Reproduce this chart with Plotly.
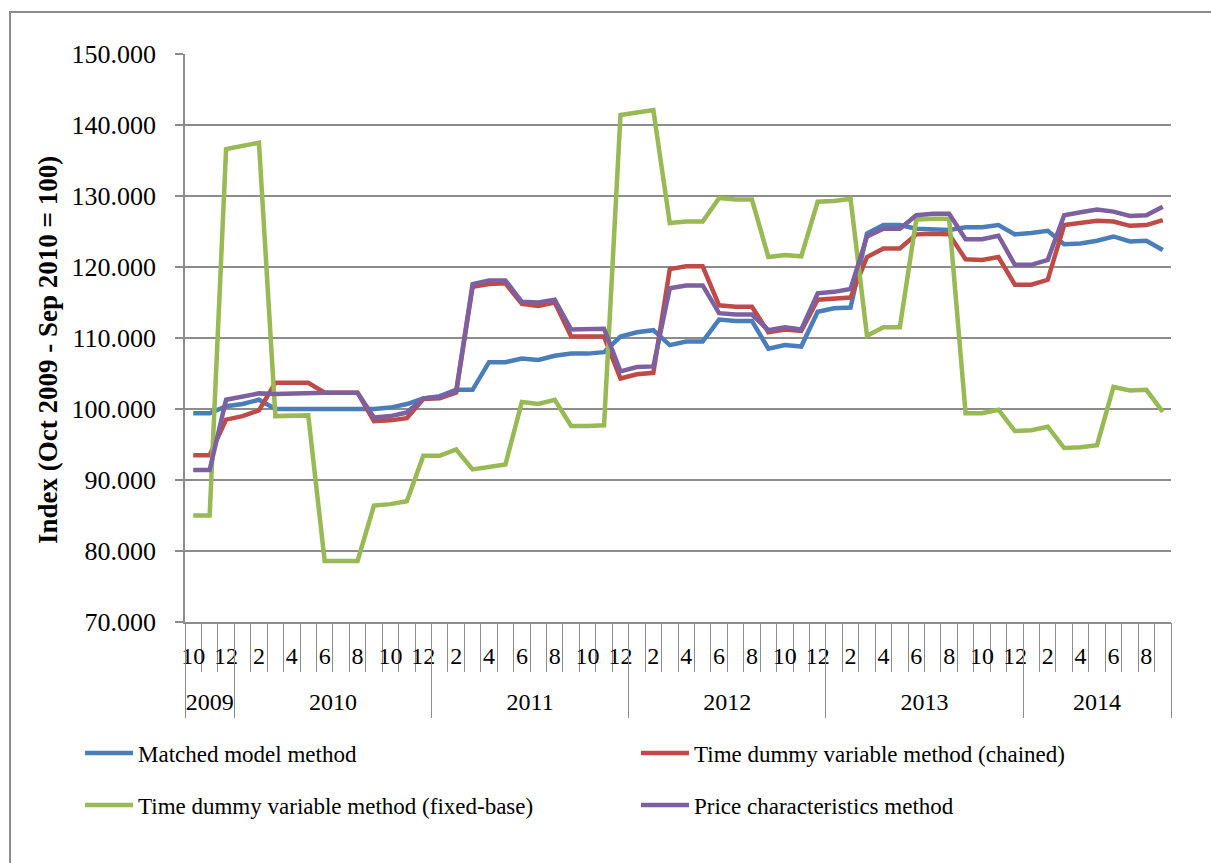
import plotly.graph_objects as go

# Monthly observations, Oct 2009 - Sep 2014
months = [10, 11, 12] + list(range(1, 13)) * 4 + list(range(1, 10))
years = [2009] * 3 + [2010] * 12 + [2011] * 12 + [2012] * 12 + [2013] * 12 + [2014] * 9

matched_model = [
    99.4, 99.4, 100.4, 100.7, 101.3, 100.0, 100.0, 100.0, 100.0, 100.0,
    100.0, 100.0, 100.2, 100.7, 101.5, 101.8, 102.7, 102.7, 106.6, 106.6,
    107.1, 106.9, 107.5, 107.8, 107.8, 108.0, 110.2, 110.8, 111.1, 109.0,
    109.5, 109.5, 112.6, 112.4, 112.4, 108.5, 109.0, 108.8, 113.7, 114.2,
    114.3, 124.7, 125.9, 125.9, 125.4, 125.3, 125.2, 125.6, 125.6, 125.9,
    124.6, 124.8, 125.1, 123.2, 123.3, 123.7, 124.3, 123.6, 123.7, 122.4,
]
time_dummy_chained = [
    93.5, 93.5, 98.5, 99.0, 99.8, 103.7, 103.7, 103.7, 102.3, 102.3,
    102.3, 98.3, 98.4, 98.7, 101.4, 101.5, 102.3, 117.2, 117.6, 117.7,
    114.8, 114.5, 115.0, 110.2, 110.2, 110.2, 104.3, 104.9, 105.1, 119.7,
    120.1, 120.1, 114.6, 114.4, 114.4, 110.8, 111.2, 111.0, 115.4, 115.5,
    115.7, 121.4, 122.6, 122.6, 124.6, 124.7, 124.6, 121.1, 121.0, 121.4,
    117.5, 117.5, 118.2, 125.9, 126.2, 126.5, 126.4, 125.8, 125.9, 126.6,
]
time_dummy_fixed = [
    85.0, 85.0, 136.6, 137.0, 137.5, 99.0, 99.0, 99.1, 78.6, 78.6,
    78.6, 86.4, 86.6, 87.0, 93.4, 93.4, 94.3, 91.5, 91.9, 92.2,
    101.0, 100.7, 101.3, 97.6, 97.6, 97.7, 141.4, 141.8, 142.1, 126.2,
    126.4, 126.4, 129.7, 129.5, 129.5, 121.4, 121.7, 121.5, 129.2, 129.3,
    129.6, 110.3, 111.5, 111.5, 126.7, 126.8, 126.8, 99.4, 99.4, 99.9,
    96.9, 97.0, 97.5, 94.5, 94.6, 94.9, 103.1, 102.6, 102.7, 99.6,
]
price_characteristics = [
    91.4, 91.4, 101.3, 101.7, 102.2, 102.1, 102.2, 102.3, 102.3, 102.3,
    102.3, 98.8, 99.0, 99.5, 101.5, 101.7, 102.5, 117.6, 118.1, 118.1,
    115.1, 115.0, 115.4, 111.2, 111.2, 111.3, 105.3, 105.9, 106.0, 117.0,
    117.4, 117.4, 113.5, 113.3, 113.3, 111.1, 111.5, 111.2, 116.3, 116.5,
    116.9, 124.3, 125.4, 125.4, 127.3, 127.5, 127.5, 123.9, 123.9, 124.4,
    120.3, 120.3, 121.0, 127.3, 127.7, 128.1, 127.8, 127.2, 127.3, 128.5,
]

# name, values, colour, legend slot (column, row)
series = [
    ("Matched model method", matched_model, "#4A7EBB", (0, 0)),
    ("Time dummy variable method (chained)", time_dummy_chained, "#BE4B48", (1, 0)),
    ("Time dummy variable method (fixed-base)", time_dummy_fixed, "#98B954", (0, 1)),
    ("Price characteristics method", price_characteristics, "#7D60A0", (1, 1)),
]

n = len(months)
idx = list(range(n))

# month labels every other category, year labels centred on each year's span
month_ticks = [i for i in idx if months[i] % 2 == 0]
month_text = [str(months[i]) for i in month_ticks]
year_list = sorted(set(years))
year_centres, year_bounds = [], [-0.5]
for y in year_list:
    pos = [i for i in idx if years[i] == y]
    year_centres.append((pos[0] + pos[-1]) / 2)
    year_bounds.append(pos[-1] + 0.5)

FONT = "Liberation Serif"
GRID = "#8C8C8C"
W, H = 1211, 863
ML, MR, MT, MB = 185, 40, 54, 241
PW, PH = W - ML - MR, H - MT - MB

fig = go.Figure()
legend_cfg = {}
col_x = [80, 636]
row_y = [753, 805]
for k, (name, vals, color, (c, r)) in enumerate(series):
    lg = "legend" if k == 0 else f"legend{k + 1}"
    fig.add_trace(go.Scatter(
        x=idx, y=vals, name=name, mode="lines",
        line=dict(color=color, width=4.5),
        legend=lg,
    ))
    legend_cfg[lg] = dict(
        xref="container", yref="container",
        x=col_x[c] / W, y=1 - row_y[r] / H, xanchor="left", yanchor="middle",
        font=dict(size=23), bgcolor="rgba(0,0,0,0)", itemwidth=48,
    )

# carrier for the year axis (no visible marks)
fig.add_trace(go.Scatter(
    x=[-0.5, n - 0.5], y=[70, 70], xaxis="x2", yaxis="y",
    mode="lines", line=dict(width=0, color="rgba(0,0,0,0)"),
    showlegend=False, hoverinfo="skip",
))

fig.update_layout(
    width=W, height=H,
    margin=dict(l=ML, r=MR, t=MT, b=MB, autoexpand=False),
    paper_bgcolor="white", plot_bgcolor="white",
    font=dict(family=FONT, size=24, color="black"),
    xaxis=dict(
        range=[-0.5, n - 0.5], showgrid=False, zeroline=False, automargin=False,
        showline=True, linecolor=GRID, linewidth=1.5,
        tickmode="array", tickvals=month_ticks, ticktext=month_text,
        ticks="outside", ticklen=11, tickcolor="rgba(0,0,0,0)",
        tickfont=dict(size=24),
        minor=dict(tickmode="linear", tick0=-0.5, dtick=1, ticks="outside",
                   ticklen=48, tickcolor=GRID, tickwidth=1, showgrid=False),
    ),
    xaxis2=dict(
        overlaying="x", anchor="y", side="bottom", automargin=False,
        range=[-0.5, n - 0.5], showgrid=False, zeroline=False, showline=False,
        tickmode="array", tickvals=year_centres, ticktext=[str(y) for y in year_list],
        ticks="outside", ticklen=58, tickcolor="rgba(0,0,0,0)",
        tickfont=dict(size=24),
        minor=dict(tickmode="array", tickvals=year_bounds, ticks="outside",
                   ticklen=95, tickcolor=GRID, tickwidth=1, showgrid=False),
    ),
    yaxis=dict(
        range=[70, 150], tick0=70, dtick=10, tickformat=".3f", automargin=False,
        showgrid=True, gridcolor=GRID, gridwidth=1.5, zeroline=False,
        showline=True, linecolor=GRID, linewidth=1.5,
        ticks="outside", ticklen=8, tickcolor=GRID, tickwidth=1.5,
        ticklabelstandoff=14,
        tickfont=dict(size=26),
    ),
    annotations=[dict(
        text="<b>Index (Oct 2009 - Sep 2010 = 100)</b>", textangle=-90,
        xref="paper", yref="paper",
        x=(48 - ML) / PW, y=(H - MB - 350) / PH, xanchor="center", yanchor="middle",
        showarrow=False, font=dict(size=27),
    )],
    shapes=[dict(
        type="rect", xref="paper", yref="paper",
        x0=(10 - ML) / PW, x1=1.2, y0=-0.6, y1=(H - MB - 12) / PH,
        line=dict(color="#8C8C8C", width=2), fillcolor="rgba(0,0,0,0)",
        layer="below",
    )],
    showlegend=True,
    **legend_cfg,
)

fig.write_html("out.html")
